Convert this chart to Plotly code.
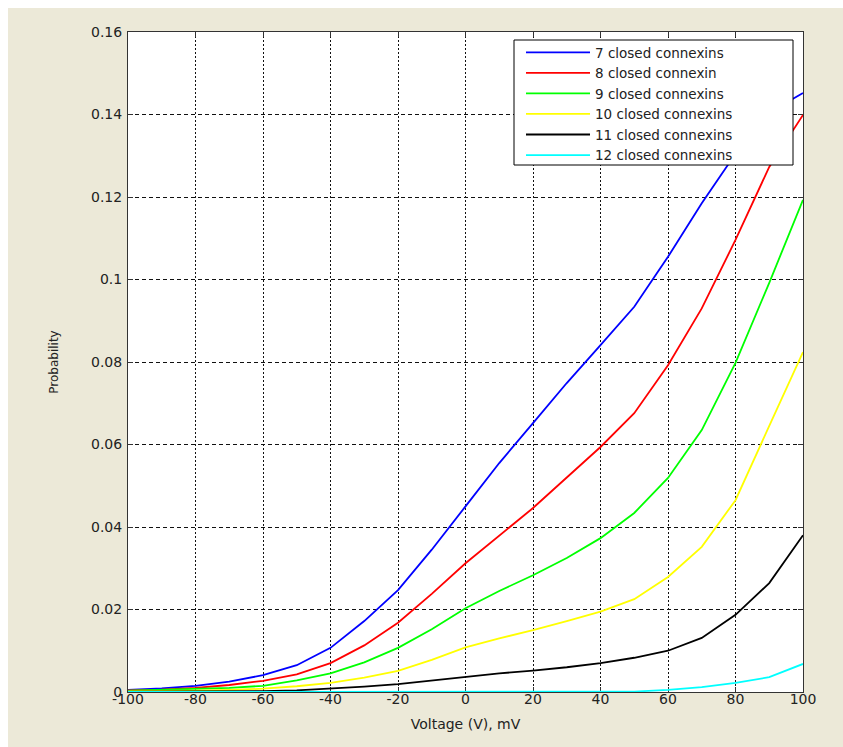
import plotly.graph_objects as go

voltage = [-100, -90, -80, -70, -60, -50, -40, -30, -20, -10, 0,
           10, 20, 30, 40, 50, 60, 70, 80, 90, 100]

p7 = [0.0005, 0.0009, 0.0015, 0.0025, 0.0041, 0.0065, 0.0107, 0.0172, 0.0247, 0.0345, 0.0450,
      0.0555, 0.0652, 0.0749, 0.0841, 0.0934, 0.1055, 0.1185, 0.1305, 0.1405, 0.1452]
p8 = [0.0004, 0.0006, 0.0010, 0.0017, 0.0027, 0.0043, 0.0070, 0.0113, 0.0168, 0.0238, 0.0312,
      0.0380, 0.0446, 0.0520, 0.0594, 0.0676, 0.0792, 0.0930, 0.1096, 0.1273, 0.1399]
p9 = [0.0003, 0.0005, 0.0007, 0.0010, 0.0015, 0.0028, 0.0045, 0.0072, 0.0107, 0.0152, 0.0203,
      0.0245, 0.0283, 0.0325, 0.0373, 0.0434, 0.0519, 0.0635, 0.0798, 0.0992, 0.1193]
p10 = [0.0002, 0.0002, 0.0003, 0.0005, 0.0008, 0.0014, 0.0022, 0.0035, 0.0051, 0.0078, 0.0108,
       0.0130, 0.0150, 0.0172, 0.0195, 0.0225, 0.0279, 0.0352, 0.0465, 0.0645, 0.0824]
p11 = [0.0001, 0.0001, 0.0001, 0.0001, 0.0002, 0.0004, 0.0008, 0.0013, 0.0019, 0.0028, 0.0037,
       0.0045, 0.0052, 0.0060, 0.0070, 0.0083, 0.0100, 0.0131, 0.0187, 0.0264, 0.0380]
p12 = [0.0, 0.0, 0.0, 0.0, 0.0, 0.0, 0.0, 0.0, 0.0, 0.0, 0.0,
       0.0, 0.0, 0.0, 0.0, 0.0001, 0.0005, 0.0012, 0.0022, 0.0036, 0.0068]

series_names = ["7 closed connexins", "8 closed connexin", "9 closed connexins",
                "10 closed connexins", "11 closed connexins", "12 closed connexins"]
series_values = [p7, p8, p9, p10, p11, p12]
series_colors = ["#0000FF", "#FF0000", "#00FF00", "#FFFF00", "#000000", "#00FFFF"]

x_tickvals = [-100, -80, -60, -40, -20, 0, 20, 40, 60, 80, 100]
x_ticktext = ["-100", "-80", "-60", "-40", "-20", "0", "20", "40", "60", "80", "100"]
y_tickvals = [0, 0.02, 0.04, 0.06, 0.08, 0.1, 0.12, 0.14, 0.16]
y_ticktext = ["0", "0.02", "0.04", "0.06", "0.08", "0.1", "0.12", "0.14", "0.16"]

FONT = "DejaVu Sans"
BEIGE = "#ECE9D8"

fig = go.Figure()
for name, vals, col in zip(series_names, series_values, series_colors):
    fig.add_trace(go.Scatter(x=voltage, y=vals, mode="lines", name=name,
                             line=dict(color=col, width=1.8), cliponaxis=False))

# plot area on screen (px): left 128, right 803, top 32, bottom 692 (page has 8px body margin)
OFF = 8
L, R, T, B = 128, 803, 32, 692
W, H = R - L, B - T


def px(xp):
    return (xp - L) / W


def py(yp):
    return (B - yp) / H


shapes = [
    dict(type="rect", xref="paper", yref="paper", x0=px(514), x1=px(793), y0=py(165), y1=py(40),
         fillcolor="white", line=dict(color="#000000", width=1), layer="above"),
]

fig.update_layout(
    width=843, height=747,
    margin=dict(l=L - OFF, r=843 - (R - OFF), t=T - OFF, b=747 - (B - OFF), pad=0),
    paper_bgcolor=BEIGE,
    plot_bgcolor="white",
    font=dict(family=FONT, size=14, color="#222222"),
    shapes=shapes,
    showlegend=True,
    legend=dict(x=px(521), y=py(37), xanchor="left", yanchor="top",
                bgcolor="rgba(0,0,0,0)", borderwidth=0,
                font=dict(family=FONT, size=13.5, color="#222222"),
                itemwidth=64, tracegroupgap=0, itemclick=False),
    xaxis=dict(range=[-100, 100], tickvals=x_tickvals, ticktext=x_ticktext,
               showgrid=True, gridcolor="#111111", gridwidth=1, griddash="2px,2px",
               zeroline=False, showline=True, linecolor="#333333", linewidth=1,
               mirror="ticks", ticks="inside", ticklen=5, tickcolor="#333333",
               layer="below traces", ticklabelstandoff=-6,
               title=dict(text="Voltage (V), mV", font=dict(family=FONT, size=14, color="#222222"),
                          standoff=13)),
    yaxis=dict(range=[0, 0.16], tickvals=y_tickvals, ticktext=y_ticktext,
               showgrid=True, gridcolor="#111111", gridwidth=1, griddash="4px,3px",
               zeroline=False, showline=True, linecolor="#333333", linewidth=1,
               mirror="ticks", ticks="inside", ticklen=5, tickcolor="#333333",
               layer="below traces", ticklabelstandoff=2,
               title=dict(text="Probability", font=dict(family=FONT, size=12, color="#222222"),
                          standoff=29)),
)

page_js = (
    "var h=document.documentElement;"
    "h.style.overflow='hidden';document.body.style.overflow='hidden';"
    "h.style.background='linear-gradient(to right, #FFFFFF 8px, rgba(0,0,0,0) 8px),"
    " linear-gradient(to bottom, #FFFFFF 8px, " + BEIGE + " 8px)';"
)

fig.write_html("out.html", post_script=page_js)
